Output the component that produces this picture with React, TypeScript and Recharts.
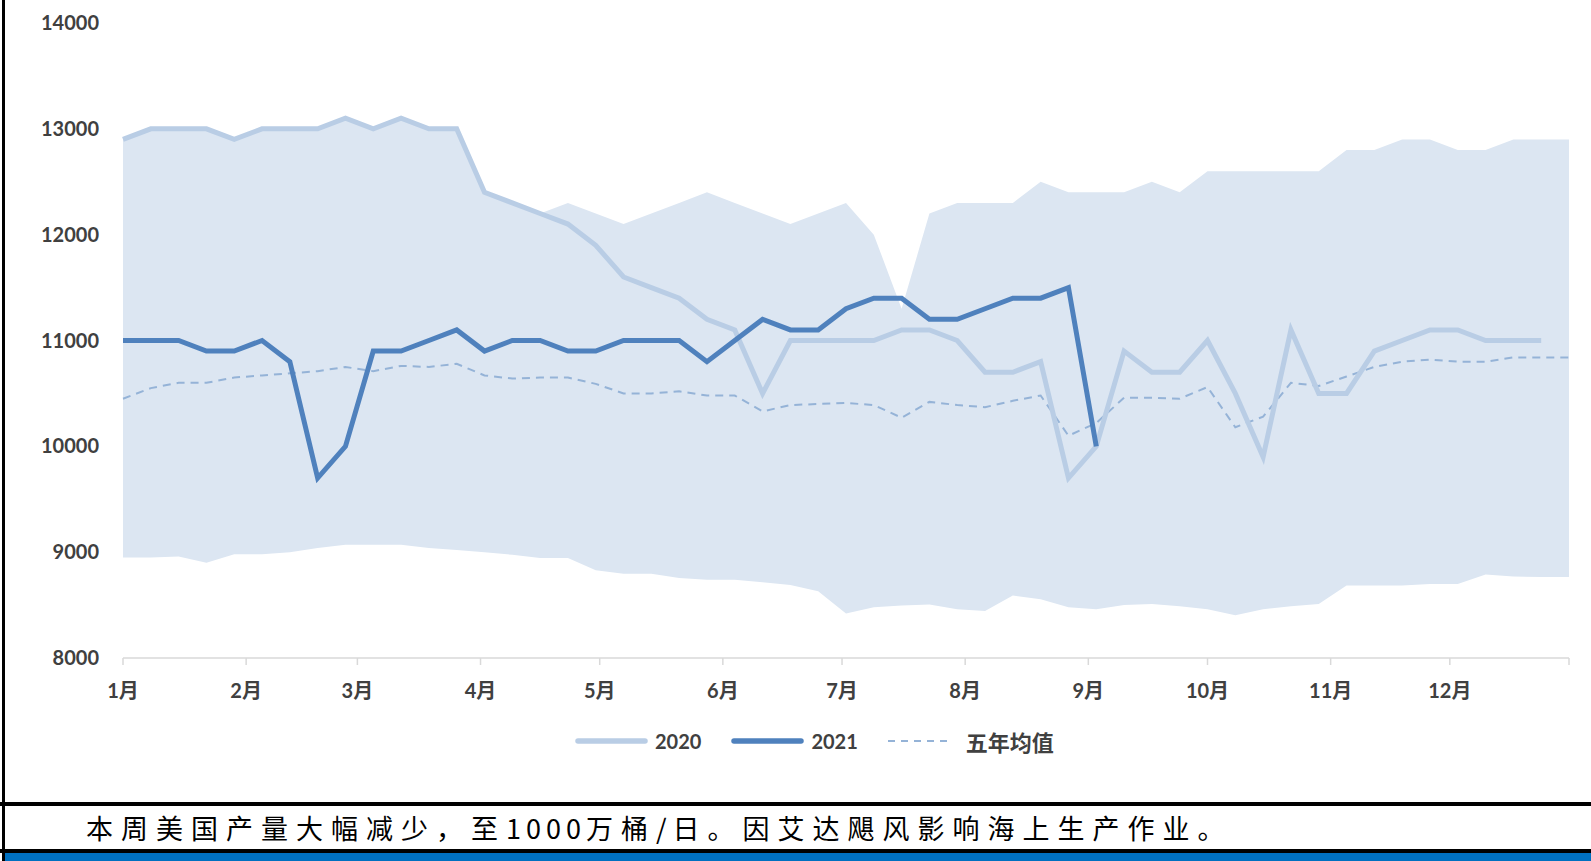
import React from "react";
import { ComposedChart, Area, Line, XAxis, YAxis } from "recharts";

// weekly US crude production, 万桶/日 x 1000 (thousand b/d)
const Y2020 = [
  12900, 13000, 13000, 13000, 12900, 13000, 13000, 13000, 13100, 13000, 13100, 13000, 13000,
  12400, 12300, 12200, 12100, 11900, 11600, 11500, 11400, 11200, 11100,
  10500, 11000, 11000, 11000, 11000, 11100, 11100, 11000, 10700, 10700, 10800,
  9700, 10000, 10900, 10700, 10700, 11000, 10500, 9900, 11100, 10500, 10500, 10900, 11000,
  11100, 11100, 11000, 11000, 11000,
];

const Y2021 = [
  11000, 11000, 11000, 10900, 10900, 11000, 10800, 9700, 10000, 10900, 10900, 11000,
  11100, 10900, 11000, 11000, 10900, 10900, 11000, 11000, 11000, 10800, 11000, 11200,
  11100, 11100, 11300, 11400, 11400, 11200, 11200, 11300, 11400, 11400, 11500, 10000,
];

const AVG5 = [
  10450, 10550, 10600, 10600, 10650, 10670, 10690, 10710, 10750, 10710, 10760, 10750, 10780,
  10670, 10640, 10650, 10650, 10590, 10500, 10500, 10520, 10480, 10480, 10330, 10390, 10400,
  10410, 10390, 10270, 10420, 10390, 10370, 10430, 10480, 10100, 10220, 10460, 10460, 10450,
  10560, 10180, 10280, 10600, 10570, 10660, 10750, 10800, 10820, 10800, 10800, 10840, 10840,
  10840,
];

const BAND_MAX = [
  12900, 13000, 13000, 13000, 12900, 13000, 13000, 13000, 13100, 13000, 13100, 13000, 13000,
  12400, 12300, 12200, 12300, 12200, 12100, 12200, 12300, 12400, 12300, 12200, 12100, 12200,
  12300, 12000, 11300, 12200, 12300, 12300, 12300, 12500, 12400, 12400, 12400, 12500, 12400,
  12600, 12600, 12600, 12600, 12600, 12800, 12800, 12900, 12900, 12800, 12800, 12900, 12900,
  12900,
];

const BAND_MIN = [
  8950, 8950, 8960, 8900, 8980, 8980, 9000, 9040, 9070, 9070, 9070, 9040, 9020, 9000, 8975,
  8945, 8945, 8830, 8795, 8795, 8755, 8740, 8740, 8715, 8690, 8630, 8420, 8480, 8495, 8505,
  8460, 8445, 8590, 8555, 8480, 8460, 8500, 8510, 8490, 8460, 8405, 8460, 8490, 8510, 8685,
  8685, 8685, 8700, 8700, 8790, 8770, 8765, 8765,
];

const MONTH_LABELS = ["1月", "2月", "3月", "4月", "5月", "6月", "7月", "8月", "9月", "10月", "11月", "12月", ""];
// first day of each month (day of year), last one closes the axis
const MONTH_START_DAY = [0, 31, 59, 90, 120, 151, 181, 212, 243, 273, 304, 334, 364];
const X_TICKS = MONTH_START_DAY.map((d) => d / 7);
const Y_TICKS = [8000, 9000, 10000, 11000, 12000, 13000, 14000];

const data = BAND_MIN.map((lo, i) => ({
  week: i,
  band: [lo, BAND_MAX[i]],
  y2020: Y2020[i],
  y2021: Y2021[i],
  avg: AVG5[i],
}));

const C = {
  band: "#DCE6F2",
  y2020: "#B9CDE5",
  y2021: "#4F81BD",
  avg: "#95B3D7",
  text: "#404040",
  axis: "#D9D9D9",
};

const labelFont = { fontFamily: "Lato, 'Noto Sans CJK SC', sans-serif", fontWeight: 700, fontSize: 20 };

function MonthTick(props: any) {
  const { x, y, payload } = props;
  const idx = X_TICKS.findIndex((t) => Math.abs(t - payload.value) < 1e-6);
  const label = MONTH_LABELS[idx] ?? "";
  return (
    <text x={x} y={y + 25} textAnchor="middle" dominantBaseline="central" fill={C.text} style={labelFont}>
      {label}
    </text>
  );
}

function LegendItem({ color, dashed, label, width }: { color: string; dashed?: boolean; label: string; width: number }) {
  return (
    <div style={{ display: "flex", alignItems: "center" }}>
      <svg width={width} height={8} style={{ display: "block" }}>
        {dashed ? (
          <line x1={0} y1={4} x2={width} y2={4} stroke={color} strokeWidth={2} strokeDasharray="7 6" />
        ) : (
          <line x1={3} y1={4} x2={width - 3} y2={4} stroke={color} strokeWidth={5.5} strokeLinecap="round" />
        )}
      </svg>
      <span style={{ ...labelFont, fontSize: dashed ? 22 : 20, color: C.text, marginLeft: dashed ? 14 : 7 }}>{label}</span>
    </div>
  );
}

export default function App() {
  return (
    <div style={{ position: "absolute", left: 0, top: 0, width: 1591, height: 861, background: "#fff", overflow: "hidden" }}>
      <ComposedChart width={1591} height={720} data={data} margin={{ top: 23, right: 22, bottom: 22, left: 13 }}>
        <XAxis
          dataKey="week"
          type="number"
          domain={[0, 52]}
          ticks={X_TICKS}
          interval={0}
          height={40}
          tick={<MonthTick />}
          tickSize={7}
          tickMargin={0}
          axisLine={{ stroke: C.axis, strokeWidth: 1.5 }}
          tickLine={{ stroke: C.axis, strokeWidth: 1.5 }}
        />
        <YAxis
          type="number"
          domain={[8000, 14000]}
          ticks={Y_TICKS}
          interval={0}
          width={110}
          axisLine={false}
          tickLine={false}
          tickSize={0}
          tickMargin={24}
          tick={{ fill: C.text, ...labelFont }}
        />
        <Area
          type="linear"
          dataKey="band"
          stroke="none"
          fill={C.band}
          fillOpacity={1}
          isAnimationActive={false}
          activeDot={false}
        />
        <Line
          type="linear"
          dataKey="avg"
          stroke={C.avg}
          strokeWidth={2}
          strokeDasharray="8 6"
          dot={false}
          activeDot={false}
          isAnimationActive={false}
        />
        <Line
          type="linear"
          dataKey="y2020"
          stroke={C.y2020}
          strokeWidth={5}
          dot={false}
          activeDot={false}
          isAnimationActive={false}
        />
        <Line
          type="linear"
          dataKey="y2021"
          stroke={C.y2021}
          strokeWidth={5}
          dot={false}
          activeDot={false}
          isAnimationActive={false}
        />
      </ComposedChart>

      <div style={{ position: "absolute", top: 727, left: 575, height: 28, display: "flex", alignItems: "center", gap: 30 }}>
        <LegendItem color={C.y2020} label="2020" width={73} />
        <LegendItem color={C.y2021} label="2021" width={73} />
        <LegendItem color={C.avg} label="五年均值" width={64} dashed />
      </div>

      {/* table borders around the chart and comment row */}
      <div style={{ position: "absolute", left: 2, top: 0, width: 3, height: 861, background: "#000" }} />
      <div style={{ position: "absolute", left: 0, top: 802, width: 1591, height: 4, background: "#000" }} />
      <div
        style={{
          position: "absolute",
          left: 86,
          top: 806,
          height: 43,
          lineHeight: "43px",
          fontFamily: "'Noto Sans CJK SC', sans-serif",
          fontSize: 27,
          letterSpacing: 8,
          color: "#000",
          whiteSpace: "nowrap",
        }}
      >
        本周美国产量大幅减少，至<span style={{ letterSpacing: 5 }}>1000</span>万桶<span style={{ letterSpacing: 6 }}>/</span>日。因艾达飓风影响海上生产作业。
      </div>
      <div style={{ position: "absolute", left: 0, top: 849, width: 1591, height: 4, background: "#000" }} />
      <div style={{ position: "absolute", left: 5, top: 853, width: 1586, height: 8, background: "#0070C0" }} />
    </div>
  );
}
